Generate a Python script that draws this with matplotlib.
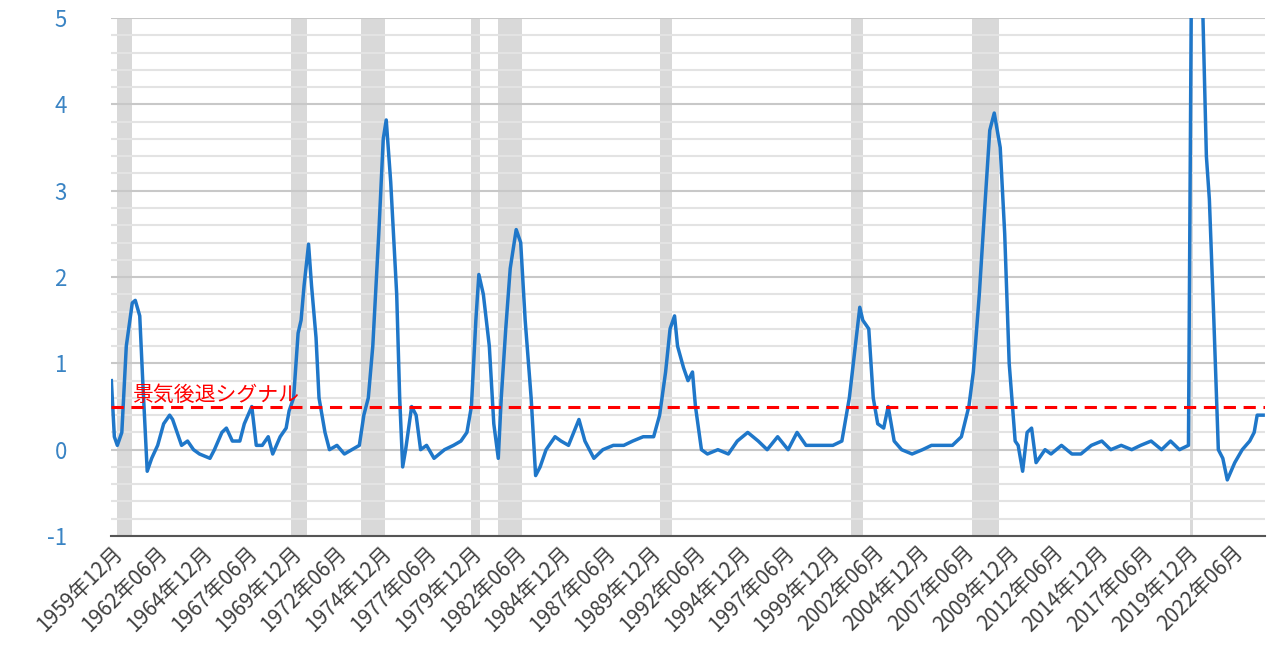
import numpy as np
import matplotlib.pyplot as plt

plt.rcParams['font.family'] = ['Noto Sans CJK JP', 'DejaVu Sans']
plt.rcParams['axes.unicode_minus'] = False

# months since 1959-12 and indicator value
months = [0, 2, 4, 7, 10, 14, 16, 19, 21, 24, 27, 31, 35, 39, 41, 44, 47, 51, 55, 59,
          66, 69, 74, 77, 81, 86, 89, 94, 97, 101, 105, 108, 113, 117, 119, 122, 125, 127,
          129, 132, 134, 137, 139, 143, 146, 151, 156, 161, 166, 169, 172, 175, 179, 182,
          184, 187, 191, 193, 195, 197, 201, 204, 207, 211, 216, 223, 229, 234, 238, 241,
          244, 246, 249, 253, 256, 259, 261, 264, 267, 271, 274, 277, 281, 284, 287, 291,
          297, 301, 306, 313, 317, 323, 329, 336, 343, 349, 356, 363, 367, 371, 374, 377,
          379, 383, 386, 389, 391, 395, 399, 406, 413, 419, 426, 433, 439, 446, 453, 459,
          465, 473, 483, 489, 494, 498, 501, 503, 507, 510, 513, 517, 520, 524, 529, 536,
          543, 549, 556, 563, 569, 574, 577, 581, 585, 588, 591, 593, 595, 598, 601, 605,
          607, 610, 613, 616, 619, 625, 629, 636, 643, 649, 656, 663, 669, 676, 683, 689,
          696, 703, 709, 715, 721, 723, 730, 733, 735, 738, 741, 744, 747, 752, 757, 762,
          765, 767, 771]
values = [0.8, 0.15, 0.05, 0.2, 1.2, 1.7, 1.73, 1.55, 0.8, -0.25, -0.1, 0.05, 0.3, 0.4, 0.35, 0.2, 0.05, 0.1, 0.0, -0.05,
          -0.1, 0.0, 0.2, 0.25, 0.1, 0.1, 0.3, 0.5, 0.05, 0.05, 0.15, -0.05, 0.15, 0.25, 0.45, 0.6, 1.35, 1.5,
          1.9, 2.38, 1.9, 1.3, 0.6, 0.2, 0.0, 0.05, -0.05, 0.0, 0.05, 0.4, 0.6, 1.2, 2.5, 3.6,
          3.82, 3.1, 1.8, 0.6, -0.2, 0.0, 0.5, 0.4, 0.0, 0.05, -0.1, 0.0, 0.05, 0.1, 0.2, 0.5,
          1.5, 2.03, 1.8, 1.2, 0.3, -0.1, 0.6, 1.4, 2.1, 2.55, 2.4, 1.5, 0.6, -0.3, -0.2, 0.0,
          0.15, 0.1, 0.05, 0.35, 0.1, -0.1, 0.0, 0.05, 0.05, 0.1, 0.15, 0.15, 0.4, 0.9, 1.4, 1.55,
          1.2, 0.95, 0.8, 0.9, 0.5, 0.0, -0.05, 0.0, -0.05, 0.1, 0.2, 0.1, 0.0, 0.15, 0.0, 0.2,
          0.05, 0.05, 0.05, 0.1, 0.6, 1.2, 1.65, 1.5, 1.4, 0.6, 0.3, 0.25, 0.5, 0.1, 0.0, -0.05,
          0.0, 0.05, 0.05, 0.05, 0.15, 0.5, 0.9, 1.8, 2.9, 3.7, 3.9, 3.7, 3.5, 2.5, 1.0, 0.1,
          0.05, -0.25, 0.2, 0.25, -0.15, 0.0, -0.05, 0.05, -0.05, -0.05, 0.05, 0.1, 0.0, 0.05, 0.0, 0.05,
          0.1, 0.0, 0.1, 0.0, 0.05, 5.5, 5.5, 3.4, 2.9, 1.5, 0.0, -0.1, -0.35, -0.15, 0.0, 0.1,
          0.2, 0.4, 0.4]

recessions = [(4, 14), (120, 131), (167, 183), (241, 247), (259, 275),
              (367, 375), (495, 503), (576, 594), (722, 724)]

tick_labels = ['1959年12月', '1962年06月', '1964年12月', '1967年06月', '1969年12月',
               '1972年06月', '1974年12月', '1977年06月', '1979年12月', '1982年06月',
               '1984年12月', '1987年06月', '1989年12月', '1992年06月', '1994年12月',
               '1997年06月', '1999年12月', '2002年06月', '2004年12月', '2007年06月',
               '2009年12月', '2012年06月', '2014年12月', '2017年06月', '2019年12月',
               '2022年06月']
signal = 0.5

fig = plt.figure(figsize=(12.8, 6.7), dpi=100)
ax = fig.add_axes([0.087, 0.2, 0.901, 0.773])

for a, b in recessions:
    ax.axvspan(a, b, color='#d9d9d9', lw=0, zorder=1)

ax.set_yticks(np.arange(-1, 5.01, 0.2), minor=True)
ax.grid(which='minor', axis='y', color='#e3e3e3', lw=1.5, zorder=0)
ax.grid(which='major', axis='y', color='#c8c8c8', lw=1.5, zorder=0)
ax.grid(axis='x', visible=False)

ax.plot(months, values, color='#1f77c9', lw=2.5, zorder=3)
ax.axhline(signal, color='#ff0000', ls=(0, (4, 2.5)), lw=2.2, zorder=4)
ax.text(14, signal + 0.07, '景気後退シグナル', color='#ff0000', fontsize=15, zorder=5)

ax.set_xlim(0, 772)
ax.set_ylim(-1, 5)
ax.set_yticks(range(-1, 6))
ax.tick_params(axis='y', which='both', length=0, labelcolor='#3a84c4', labelsize=16, pad=32)
ax.set_xticks(np.arange(len(tick_labels)) * 30)
ax.set_xticklabels(tick_labels, rotation=45, ha='right', rotation_mode='anchor',
                   fontsize=15, color='#404040')
ax.tick_params(axis='x', length=0, pad=4)
for s in ['top', 'right', 'left']:
    ax.spines[s].set_visible(False)
ax.spines['bottom'].set_color('#555555')
ax.spines['bottom'].set_linewidth(1.5)

fig.savefig('out.png', dpi=100)
